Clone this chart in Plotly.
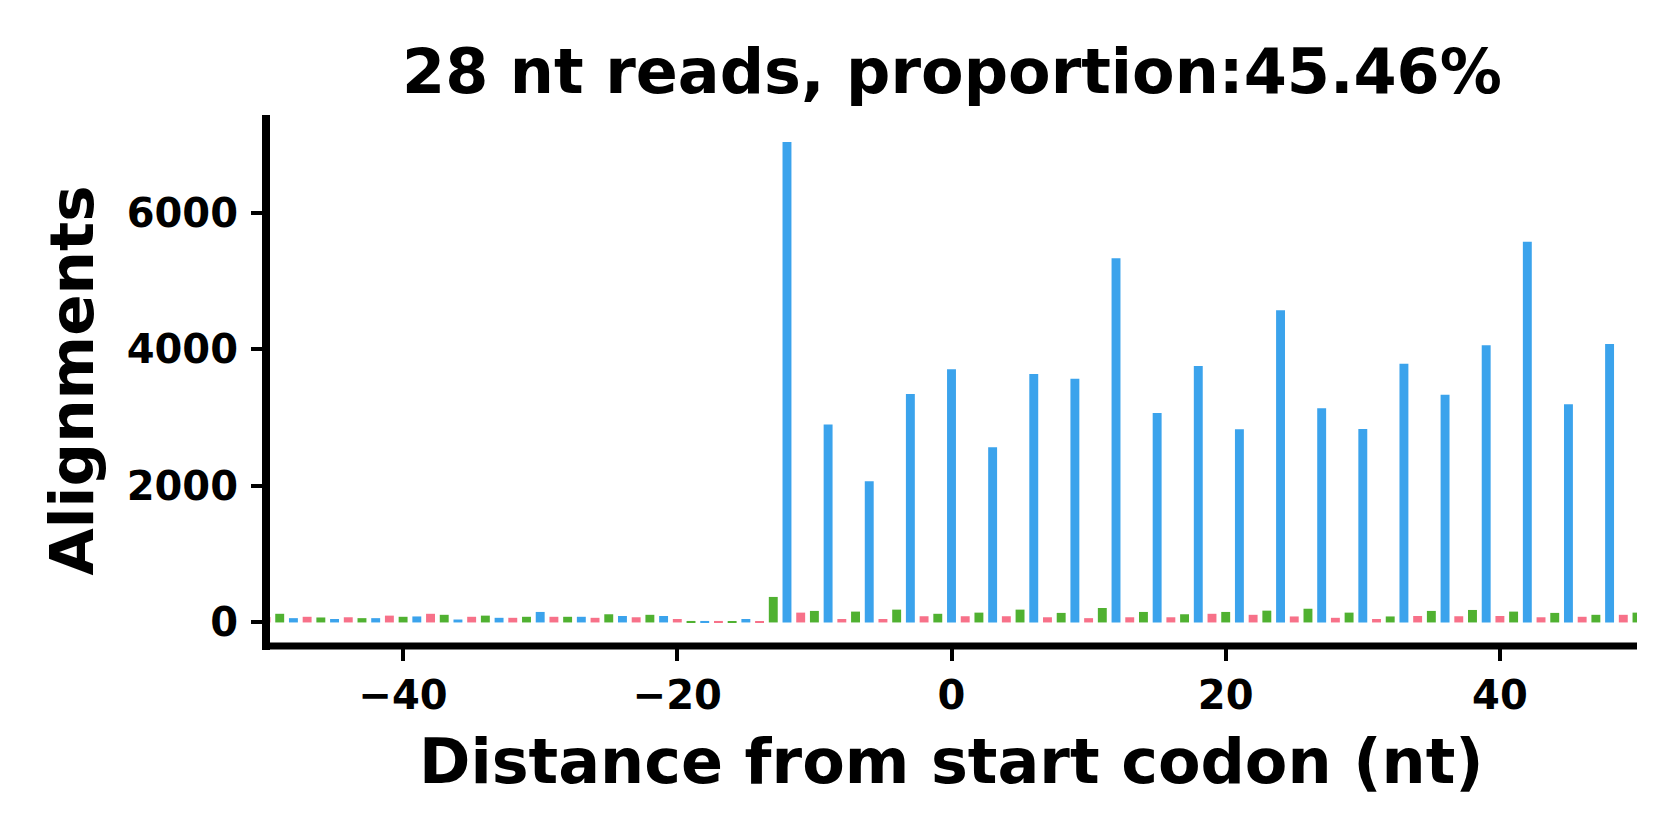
import plotly.graph_objects as go

# Positions (nt from start codon) per reading frame
pos_frame0 = list(range(-48, 49, 3))   # blue
pos_frame1 = list(range(-50, 50, 3))   # pink
pos_frame2 = list(range(-49, 51, 3))   # green

val_frame0 = [63, 51, 63, 88, 43, 68, 154, 83, 95, 95, 22, 51,
              7038, 2899, 2070, 3348, 3710, 2568, 3641, 3572, 5335, 3070,
              3758, 2830, 4573, 3139, 2835, 3792, 3338, 4061, 5578, 3197, 4080]
val_frame1 = [80, 83, 76, 100, 127, 83, 68, 83, 68, 76, 51, 22, 18,
              144, 51, 51, 91, 91, 91, 76, 63, 76, 76, 127, 112, 88,
              68, 51, 95, 91, 95, 76, 83, 112]
val_frame2 = [127, 73, 63, 83, 112, 100, 83, 83, 120, 112, 22, 18,
              374, 169, 159, 188, 127, 144, 188, 140, 212, 154, 120, 154,
              173, 201, 144, 88, 169, 183, 159, 140, 112, 144]

colors = {"frame0": "#3ba3ec", "frame1": "#f77189", "frame2": "#50b131"}

x_ticks = [-40, -20, 0, 20, 40]
x_ticklabels = ["\u221240", "\u221220", "0", "20", "40"]
y_ticks = [0, 2000, 4000, 6000]

title_text = "28 nt reads, proportion:45.46%"
x_title = "Distance from start codon (nt)"
y_title = "Alignments"

FONT = "DejaVu Sans"

W, H = 1680, 840
ML, MR, MT, MB = 258, 51, 107, 202   # page body adds an 8px offset
PW, PH = W - ML - MR, H - MT - MB
SPINE = 8

fig = go.Figure()
for pos, val, c in [(pos_frame1, val_frame1, colors["frame1"]),
                    (pos_frame2, val_frame2, colors["frame2"]),
                    (pos_frame0, val_frame0, colors["frame0"])]:
    fig.add_trace(go.Bar(x=pos, y=val, width=0.65, marker=dict(color=c, line=dict(width=0)),
                         showlegend=False))

fig.update_layout(
    width=W, height=H,
    margin=dict(l=ML, r=MR, t=MT, b=MB),
    paper_bgcolor="white", plot_bgcolor="white",
    barmode="overlay",
    font=dict(family=FONT, color="black"),
)
fig.update_xaxes(
    range=[-50, 50], tickvals=x_ticks, ticktext=x_ticklabels,
    showline=False, showgrid=False, zeroline=False,
    ticks="outside", ticklen=14, tickwidth=3.5, tickcolor="black",
    tickfont=dict(family=FONT, size=40, weight="bold", color="black"),
    ticklabelstandoff=0,
)
fig.update_yaxes(
    range=[-345, 7435], tickvals=y_ticks,
    showline=False, showgrid=False, zeroline=False,
    ticks="outside", ticklen=14, tickwidth=3.5, tickcolor="black",
    tickfont=dict(family=FONT, size=40, weight="bold", color="black"),
    ticklabelstandoff=5,
)
# matplotlib-like spines centred on the axes edges
hx = (SPINE / 2) / PW
hy = (SPINE / 2) / PH
fig.add_shape(type="line", xref="paper", yref="paper", x0=0, x1=0, y0=-hy, y1=1,
              line=dict(color="black", width=SPINE), layer="above")
fig.add_shape(type="line", xref="paper", yref="paper", x0=-hx, x1=1, y0=0, y1=0,
              line=dict(color="black", width=SPINE - 1), layer="above")

fig.add_annotation(text=title_text, x=0.5, y=1, xref="paper", yref="paper",
                   xanchor="center", yanchor="bottom", yshift=5, showarrow=False,
                   font=dict(family=FONT, size=62, weight="bold", color="black"))
fig.add_annotation(text=x_title, x=0.5, y=0, xref="paper", yref="paper",
                   xanchor="center", yanchor="middle", yshift=-115, showarrow=False,
                   font=dict(family=FONT, size=62, weight="bold", color="black"))
fig.add_annotation(text=y_title, x=0, y=0.5, xref="paper", yref="paper",
                   xanchor="center", yanchor="middle", xshift=-195, showarrow=False,
                   textangle=-90,
                   font=dict(family=FONT, size=61, weight="bold", color="black"))

fig.write_html("out.html")
